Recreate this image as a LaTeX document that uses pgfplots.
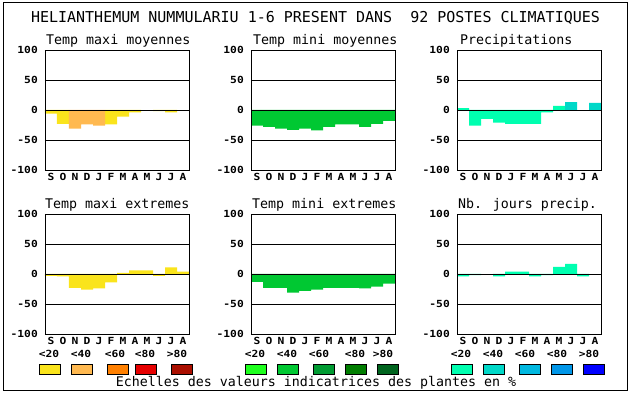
\documentclass[border=0pt]{standalone}
\usepackage{pgfplots}
\pgfplotsset{compat=1.18}
\usepackage{fontspec}
\setmainfont{DejaVu Sans Mono}
\newfontfamily\tickfont[FakeStretch=1.15]{DejaVu Sans Mono}
\definecolor{yel}{RGB}{250,228,28}
\definecolor{orgA}{RGB}{255,185,80}
\definecolor{orgB}{RGB}{255,128,0}
\definecolor{redA}{RGB}{230,0,0}
\definecolor{redB}{RGB}{170,15,0}
\definecolor{grA}{RGB}{30,255,30}
\definecolor{grB}{RGB}{0,200,50}
\definecolor{grC}{RGB}{0,155,50}
\definecolor{grD}{RGB}{0,125,0}
\definecolor{grE}{RGB}{0,100,30}
\definecolor{blA}{RGB}{0,255,176}
\definecolor{blB}{RGB}{0,216,200}
\definecolor{blC}{RGB}{0,184,224}
\definecolor{blD}{RGB}{0,150,232}
\definecolor{blE}{RGB}{0,0,255}
\pgfplotsset{panel/.style={
  width=144pt, height=120pt, scale only axis, anchor=south west,
  xmin=-0.5, xmax=11.5, ymin=-100, ymax=100, enlargelimits=false,
  ytick={-100,-50,0,50,100}, yticklabels={-100,-50,0,50,100},
  xtick={0,...,11}, xticklabels={S,O,N,D,J,F,M,A,M,J,J,A},
  major tick length=0pt,
  ymajorgrids, grid style={black, line width=0.9pt},
  axis line style={line width=0.9pt},
  ybar, bar width=1, axis on top,
  tick label style={font=\fontsize{9.8}{10}\tickfont\bfseries},
  yticklabel style={anchor=east, inner sep=0pt, xshift=-7pt},
  xticklabel style={anchor=north, inner sep=0pt, yshift=-3pt},
  every axis plot/.append style={draw=none, bar shift=0pt},
}}
\begin{document}
\begin{tikzpicture}
\useasboundingbox (0,0) rectangle (630pt,394pt);
\draw[line width=0.9pt] (3.5pt,4pt) rectangle (627pt,392pt);
\node[anchor=base, font=\fontsize{15}{16}\selectfont] at (315.5pt,371pt) {HELIANTHEMUM NUMMULARIU 1-6 PRESENT DANS\ \ 92 POSTES CLIMATIQUES};
% subtitles
\begin{scope}[every node/.style={anchor=base west, inner sep=0pt, font=\fontsize{13.3}{14}\selectfont}]
\node at (46pt,349pt) {Temp maxi moyennes};
\node at (253pt,349pt) {Temp mini moyennes};
\node at (460pt,349pt) {Precipitations};
\node at (45pt,185pt) {Temp maxi extremes};
\node at (252pt,185pt) {Temp mini extremes};
\node at (458pt,185pt) {Nb. jours precip.};
\end{scope}
% Row 1
\begin{axis}[panel, at={(45pt,224pt)}]
\addplot[fill=yel] coordinates {(0,-6) (1,-23) (5,-24) (6,-11) (7,-4) (9,-2) (10,-4)};
\addplot[fill=orgA] coordinates {(2,-31) (3,-24) (4,-26)};
\end{axis}
\begin{axis}[panel, at={(251pt,224pt)}]
\addplot[fill=grB] coordinates {(0,-26) (1,-28) (2,-31) (3,-33) (4,-31) (5,-34) (6,-28) (7,-24) (8,-24) (9,-28) (10,-23) (11,-18)};
\end{axis}
\begin{axis}[panel, at={(457pt,224pt)}]
\addplot[fill=blA] coordinates {(0,3) (1,-26) (2,-15) (3,-21) (4,-23) (5,-23) (6,-23) (7,-4) (8,7)};
\addplot[fill=blB] coordinates {(9,13) (11,12)};
\end{axis}
% Row 2
\begin{axis}[panel, at={(45pt,60pt)}]
\addplot[fill=yel] coordinates {(0,-3) (1,-4) (2,-23) (3,-26) (4,-24) (5,-14) (6,2) (7,6) (8,6) (9,-3) (10,11) (11,4)};
\end{axis}
\begin{axis}[panel, at={(251pt,60pt)}]
\addplot[fill=grB] coordinates {(0,-13) (1,-23) (2,-23) (3,-31) (4,-28) (5,-26) (6,-23) (7,-23) (8,-23) (9,-24) (10,-21) (11,-16)};
\end{axis}
\begin{axis}[panel, at={(457pt,60pt)}]
\addplot[fill=blA] coordinates {(0,-4) (1,-2) (3,-4) (4,4) (5,4) (6,-4) (7,-2) (8,12) (9,17) (10,-4)};
\end{axis}
% legend scales
\begin{scope}[every node/.style={anchor=base, inner sep=0pt, font=\fontsize{9.8}{10}\tickfont\bfseries}]
\foreach \x/\t in {49/<20,81/<40,115/<60,145/<80,177/>80,
                   255/<20,287/<40,319/<60,355/<80,383/>80,
                   461/<20,493/<40,525/<60,557/<80,589/>80}
  \node at (\x pt,36pt) {\t};
\end{scope}
\foreach \x/\c in {39/yel,71/orgA,107/orgB,135/redA,171/redB,
                   245/grA,277/grB,313/grC,345/grD,377/grE,
                   451/blA,483/blB,519/blC,551/blD,583/blE}
  \draw[fill=\c, line width=0.9pt] (\x pt,20pt) rectangle ++(21pt,10pt);
\node[anchor=base, inner sep=0pt, font=\fontsize{13.3}{14}\selectfont] at (316pt,7pt) {Echelles des valeurs indicatrices des plantes en \%};
\end{tikzpicture}
\end{document}
